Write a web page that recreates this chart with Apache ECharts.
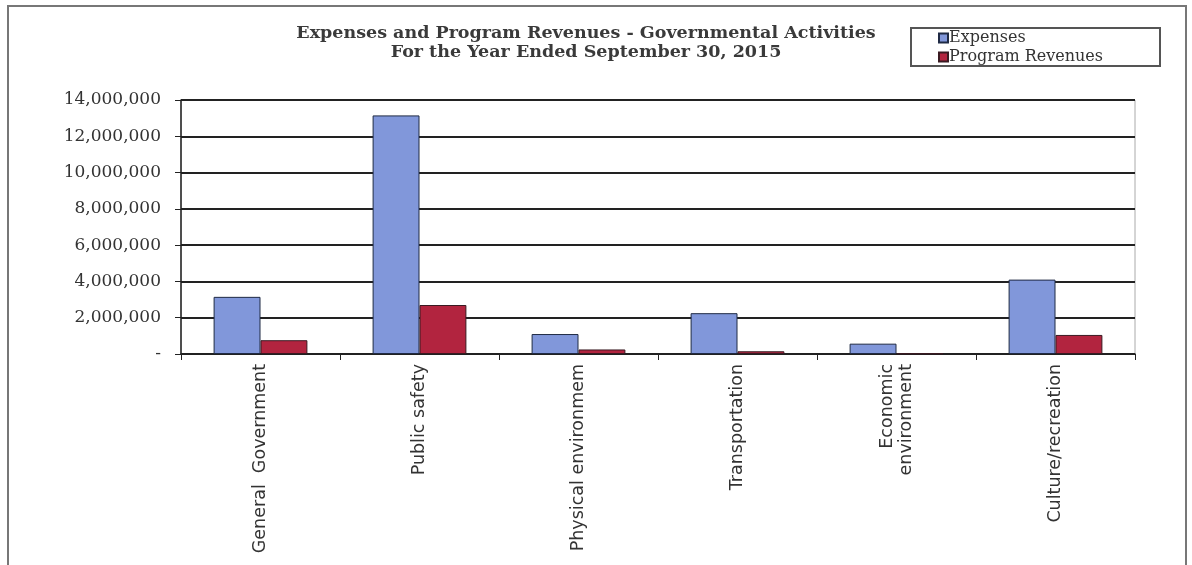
<!DOCTYPE html>
<html>
<head>
<meta charset="utf-8">
<script src="https://cdn.jsdelivr.net/npm/echarts@6/dist/echarts.min.js"></script>
<style>html,body{margin:0;padding:0;background:#fff}#c{width:1192px;height:565px}</style>
</head>
<body>
<div id="c"></div>
<script>
var categories = ['General  Government', 'Public safety', 'Physical environmem', 'Transportation', 'Economic\nenvironment', 'Culture/recreation'];
var expenses = [3150000, 13150000, 1100000, 2250000, 570000, 4100000];
var programRevenues = [760000, 2700000, 250000, 150000, 30000, 1050000];
var yTicks = [0, 2000000, 4000000, 6000000, 8000000, 10000000, 12000000, 14000000];

var chart = echarts.init(document.getElementById('c'), null, {renderer: 'canvas'});
var serif = '"DejaVu Serif", "Liberation Serif", serif';
var sans = '"DejaVu Sans", sans-serif';
chart.setOption({
  animation: false,
  backgroundColor: '#fff',
  title: {
    text: 'Expenses and Program Revenues - Governmental Activities\nFor the Year Ended September 30, 2015',
    left: 581, top: 19, textAlign: 'center',
    textStyle: {fontFamily: serif, fontWeight: 'bold', fontSize: 17.5, lineHeight: 19, color: '#3a3a3a'}
  },
  legend: {
    orient: 'vertical', left: 938, top: 30,
    padding: 0, itemGap: 3, itemWidth: 9, itemHeight: 9,
    icon: 'rect',
    textStyle: {fontFamily: serif, fontSize: 16, color: '#333', padding: [0, 0, 0, -4]},
    data: ['Expenses', 'Program Revenues']
  },
  grid: {left: 181, right: 57, top: 100, bottom: 211, show: true, borderColor: '#aaa', borderWidth: 1, containLabel: false},
  xAxis: {
    type: 'category', data: categories,
    axisLine: {lineStyle: {color: '#222', width: 1.5}},
    axisTick: {show: true, alignWithLabel: false, length: 6, lineStyle: {color: '#222'}},
    axisLabel: {rotate: 90, interval: 0, margin: 10, fontFamily: sans, fontSize: 17.5, color: '#333', lineHeight: 19}
  },
  yAxis: {
    type: 'value', min: 0, max: 14000000, interval: 2000000,
    axisLine: {show: true, lineStyle: {color: '#222', width: 1.5}},
    axisTick: {show: true, length: 6, lineStyle: {color: '#222'}},
    splitLine: {lineStyle: {color: '#222', width: 2}},
    axisLabel: {
      margin: 20, fontFamily: serif, fontSize: 17, color: '#333',
      formatter: function (v) { return v === 0 ? '-' : v.toLocaleString('en-US'); }
    }
  },
  series: [
    {name: 'Expenses', type: 'bar', data: expenses, barGap: '0%', barCategoryGap: '41%',
     itemStyle: {color: '#8197da', borderColor: '#1f2a44', borderWidth: 1}},
    {name: 'Program Revenues', type: 'bar', data: programRevenues,
     itemStyle: {color: '#b2243f', borderColor: '#3a1a22', borderWidth: 1}}
  ],
  graphic: [
    {type: 'rect', shape: {x: 8, y: 6, width: 1178, height: 570}, style: {fill: 'none', stroke: '#777', lineWidth: 2}, silent: true},
    {type: 'rect', shape: {x: 911, y: 28, width: 249, height: 38}, style: {fill: 'none', stroke: '#555', lineWidth: 2}, silent: true}
  ]
});
</script>
</body>
</html>
